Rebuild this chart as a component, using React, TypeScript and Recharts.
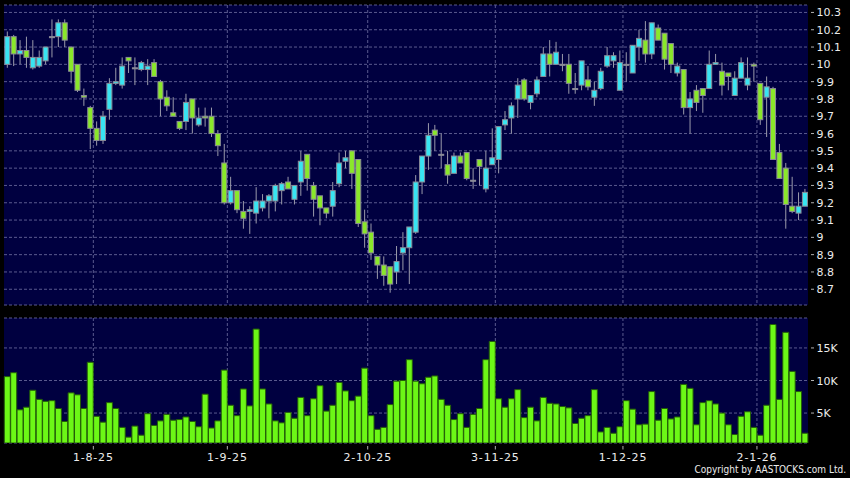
import React from 'react'
import { ComposedChart, Bar, XAxis, YAxis, CartesianGrid } from 'recharts'

// trading days, D-M-YY
const DATES = [
  '14-7-25', '15-7-25', '16-7-25', '17-7-25', '18-7-25', '21-7-25', '22-7-25', '23-7-25', '24-7-25', '25-7-25',
  '28-7-25', '29-7-25', '30-7-25', '31-7-25',
  '1-8-25', '4-8-25', '5-8-25', '6-8-25', '7-8-25', '8-8-25', '11-8-25', '12-8-25', '13-8-25', '14-8-25',
  '15-8-25', '18-8-25', '19-8-25', '20-8-25', '21-8-25', '22-8-25', '25-8-25', '26-8-25', '27-8-25', '28-8-25',
  '29-8-25',
  '1-9-25', '2-9-25', '3-9-25', '4-9-25', '5-9-25', '8-9-25', '9-9-25', '10-9-25', '11-9-25', '12-9-25',
  '15-9-25', '16-9-25', '17-9-25', '18-9-25', '19-9-25', '22-9-25', '23-9-25', '24-9-25', '25-9-25', '26-9-25',
  '29-9-25', '30-9-25',
  '2-10-25', '3-10-25', '6-10-25', '8-10-25', '9-10-25', '10-10-25', '13-10-25', '14-10-25', '15-10-25', '16-10-25',
  '17-10-25', '20-10-25', '21-10-25', '22-10-25', '23-10-25', '24-10-25', '27-10-25', '28-10-25', '30-10-25', '31-10-25',
  '3-11-25', '4-11-25', '5-11-25', '6-11-25', '7-11-25', '10-11-25', '11-11-25', '12-11-25', '13-11-25', '14-11-25',
  '17-11-25', '18-11-25', '19-11-25', '20-11-25', '21-11-25', '24-11-25', '25-11-25', '26-11-25', '27-11-25', '28-11-25',
  '1-12-25', '2-12-25', '3-12-25', '4-12-25', '5-12-25', '8-12-25', '9-12-25', '10-12-25', '11-12-25', '12-12-25',
  '15-12-25', '16-12-25', '17-12-25', '18-12-25', '19-12-25', '22-12-25', '23-12-25', '24-12-25', '29-12-25', '30-12-25',
  '31-12-25',
  '2-1-26', '5-1-26', '6-1-26', '7-1-26', '8-1-26', '9-1-26', '12-1-26', '13-1-26',
]

const OPEN = [
  10.00, 10.16, 10.06, 10.08, 9.98, 9.99, 10.02, 10.16, 10.16, 10.24,
  10.10, 10.00, 9.82, 9.75, 9.63, 9.56, 9.74, 9.89, 9.88, 10.04,
  9.98, 9.97, 9.97, 10.01, 9.90, 9.81, 9.72, 9.67, 9.67, 9.80,
  9.65, 9.70, 9.70, 9.60, 9.43, 9.20, 9.27, 9.15, 9.15, 9.14,
  9.17, 9.21, 9.21, 9.27, 9.32, 9.22, 9.32, 9.48, 9.30, 9.24,
  9.17, 9.18, 9.31, 9.44, 9.50, 9.45, 9.09, 9.03, 8.89, 8.84,
  8.83, 8.80, 8.91, 8.94, 9.03, 9.32, 9.47, 9.62, 9.48, 9.42,
  9.37, 9.47, 9.49, 9.33, 9.45, 9.28, 9.42, 9.45, 9.65, 9.69,
  9.80, 9.91, 9.78, 9.83, 9.93, 10.06, 10.00, 10.00, 10.00, 9.86,
  9.88, 9.91, 9.81, 9.86, 9.99, 10.02, 9.85, 10.00, 9.95, 10.10,
  10.14, 10.06, 10.21, 10.18, 10.12, 9.95, 9.97, 9.75, 9.85, 9.86,
  9.86, 10.00, 9.96, 9.95, 9.82, 9.92, 9.88, 10.00, 9.89, 9.81,
  9.86, 9.49, 9.40, 9.18, 9.14, 9.18,
]

const HIGH = [
  10.19, 10.17, 10.14, 10.16, 10.14, 10.08, 10.10, 10.26, 10.26, 10.26,
  10.10, 10.00, 9.86, 9.76, 9.67, 9.73, 9.92, 9.98, 10.04, 10.04,
  10.04, 10.02, 10.03, 10.03, 9.91, 9.85, 9.81, 9.67, 9.83, 9.80,
  9.75, 9.75, 9.75, 9.62, 9.54, 9.35, 9.27, 9.21, 9.18, 9.29,
  9.25, 9.25, 9.31, 9.32, 9.35, 9.30, 9.50, 9.48, 9.32, 9.24,
  9.17, 9.32, 9.49, 9.50, 9.50, 9.45, 9.16, 9.08, 8.89, 8.89,
  8.83, 8.95, 9.03, 9.06, 9.36, 9.47, 9.66, 9.65, 9.60, 9.50,
  9.49, 9.49, 9.49, 9.40, 9.45, 9.50, 9.63, 9.64, 9.73, 9.78,
  9.92, 9.92, 9.82, 9.93, 10.10, 10.14, 10.13, 10.06, 10.06, 9.95,
  10.02, 9.99, 9.90, 9.98, 10.10, 10.07, 10.08, 10.07, 10.11, 10.20,
  10.25, 10.24, 10.23, 10.18, 10.12, 10.01, 9.97, 9.84, 9.88, 9.86,
  10.08, 10.06, 10.01, 9.95, 9.96, 10.04, 10.04, 10.01, 9.89, 9.93,
  9.87, 9.54, 9.43, 9.35, 9.26, 9.28,
]

const LOW = [
  9.98, 9.99, 10.00, 9.98, 9.97, 9.98, 10.00, 10.04, 10.10, 10.10,
  9.89, 9.84, 9.76, 9.51, 9.53, 9.54, 9.68, 9.88, 9.86, 9.95,
  9.88, 9.96, 9.88, 9.93, 9.70, 9.73, 9.70, 9.62, 9.62, 9.60,
  9.64, 9.64, 9.58, 9.47, 9.19, 9.19, 9.14, 9.05, 9.02, 9.08,
  9.15, 9.11, 9.15, 9.19, 9.28, 9.19, 9.24, 9.27, 9.12, 9.07,
  9.11, 9.12, 9.29, 9.40, 9.28, 9.06, 8.94, 8.87, 8.76, 8.72,
  8.68, 8.73, 8.81, 8.73, 9.02, 9.25, 9.39, 9.50, 9.40, 9.31,
  9.37, 9.43, 9.33, 9.28, 9.30, 9.26, 9.42, 9.37, 9.62, 9.60,
  9.69, 9.79, 9.74, 9.81, 9.93, 9.93, 10.00, 9.96, 9.83, 9.83,
  9.85, 9.85, 9.76, 9.85, 9.98, 9.98, 9.85, 9.90, 9.95, 10.02,
  10.01, 10.03, 10.14, 9.97, 9.95, 9.93, 9.71, 9.60, 9.73, 9.72,
  9.86, 10.00, 9.82, 9.85, 9.82, 9.92, 9.85, 9.90, 9.65, 9.58,
  9.45, 9.34, 9.05, 9.14, 9.10, 9.18,
]

const CLOSE = [
  10.16, 10.06, 10.08, 10.04, 10.04, 10.04, 10.10, 10.16, 10.24, 10.14,
  9.96, 9.85, 9.81, 9.63, 9.56, 9.70, 9.89, 9.90, 9.99, 10.02,
  9.98, 10.01, 9.99, 9.93, 9.80, 9.76, 9.70, 9.63, 9.78, 9.69,
  9.69, 9.69, 9.60, 9.53, 9.20, 9.27, 9.16, 9.11, 9.16, 9.21,
  9.21, 9.24, 9.30, 9.31, 9.28, 9.30, 9.44, 9.34, 9.22, 9.17,
  9.14, 9.27, 9.43, 9.46, 9.37, 9.08, 9.02, 8.91, 8.84, 8.78,
  8.73, 8.86, 8.94, 9.06, 9.32, 9.47, 9.59, 9.59, 9.48, 9.36,
  9.47, 9.43, 9.34, 9.33, 9.41, 9.40, 9.46, 9.64, 9.68, 9.76,
  9.88, 9.80, 9.82, 9.91, 10.06, 10.00, 10.07, 10.00, 9.89, 9.86,
  10.02, 9.87, 9.85, 9.96, 10.05, 10.05, 10.01, 10.00, 10.11, 10.15,
  10.06, 10.24, 10.14, 10.03, 10.00, 9.99, 9.75, 9.80, 9.78, 9.82,
  10.00, 10.01, 9.88, 9.93, 9.92, 10.01, 9.92, 9.99, 9.68, 9.87,
  9.45, 9.34, 9.19, 9.15, 9.18, 9.26,
]

const VOLUME = [
  10600, 11200, 5500, 5900, 8500, 7100, 6800, 6900, 5700, 3700,
  8100, 7800, 5700, 12800, 4500, 3600, 6600, 5700, 2800, 1300,
  3000, 1600, 4900, 3100, 3800, 4800, 3900, 4000, 4400, 3700,
  2900, 7900, 2700, 3800, 11600, 6200, 4600, 8700, 6100, 17900,
  8700, 6400, 3800, 3500, 5100, 4200, 7400, 4600, 7200, 9200,
  5300, 6200, 9700, 8400, 6900, 7600, 11900, 4600, 2500, 2800,
  6300, 9900, 10000, 13200, 9900, 9500, 10500, 10700, 7100, 6200,
  4000, 4900, 2800, 4800, 5700, 13200, 16000, 7200, 5900, 7200,
  8600, 4300, 5900, 3800, 7400, 6500, 6400, 6000, 5800, 3400,
  4200, 4600, 8600, 2100, 2800, 1900, 2900, 6900, 5600, 3200,
  3300, 8300, 3900, 5700, 4100, 4400, 9400, 8800, 3200, 6600,
  6900, 6400, 5000, 3200, 1700, 4500, 5200, 2800, 1600, 6200,
  18600, 7100, 17400, 11400, 8300, 1900,
]

const PRICE_TICKS = [8.7, 8.8, 8.9, 9.0, 9.1, 9.2, 9.3, 9.4, 9.5, 9.6, 9.7, 9.8, 9.9, 10.0, 10.1, 10.2, 10.3]
const VOLUME_TICKS = [5000, 10000, 15000]
const MONTH_TICKS = ['1-8-25', '1-9-25', '2-10-25', '3-11-25', '1-12-25', '2-1-26']

const data = DATES.map((date, i) => ({
  date,
  open: OPEN[i],
  high: HIGH[i],
  low: LOW[i],
  close: CLOSE[i],
  range: [LOW[i], HIGH[i]],
  volume: VOLUME[i],
}))

const W = 850
const LEFT = 4
const AXIS_W = 42
const BAND = (W - LEFT - AXIS_W) / DATES.length

const FONT = '"DejaVu Sans", Verdana, sans-serif'
const TEXT = '#ececec'
const PLOT_BG = '#000040'
const GRID = '#5a5a8e'
const UP = '#38e4f2'
const DOWN = '#8ae82a'
const EDGE = '#8a8a96'
const WICK = '#9a9aaa'
const VOL = '#6cf716'

const monthEdges = ({ offset }: any) => {
  const left = offset?.left ?? LEFT
  const band = (offset?.width ?? W - LEFT - AXIS_W) / DATES.length
  return MONTH_TICKS.map((t) => left + DATES.indexOf(t) * band)
}

const Candle = (props: any) => {
  const { x, y, width, height, payload } = props
  if (!payload || width == null) return null
  const top = Math.min(y, y + height)
  const h = Math.abs(height)
  const { open, close, high, low } = payload
  const toY = (p: number) => top + ((high - p) / (high - low || 1)) * h
  const cx = x + width / 2
  const bt = toY(Math.max(open, close))
  const bb = toY(Math.min(open, close))
  const fill = close > open ? UP : close < open ? DOWN : '#a8c8d0'
  return (
    <g>
      <line x1={cx} x2={cx} y1={top} y2={top + h} stroke={WICK} strokeWidth={1} />
      <rect x={x + 0.5} y={bt} width={width - 1} height={Math.max(bb - bt, 1)} fill={fill} stroke={EDGE} strokeWidth={1} />
    </g>
  )
}

const fmtPrice = (v: number) => String(+v.toFixed(1))

const PriceTick = ({ x, y, payload }: any) => (
  <g>
    <line x1={x + 3} x2={x + 6} y1={y} y2={y} stroke="#b0b0b0" />
    <text x={x + 8.5} y={y} dy={4} fill={TEXT} fontSize={11} fontFamily={FONT}>
      {fmtPrice(payload.value)}
    </text>
  </g>
)

const VolumeTick = ({ x, y, payload }: any) => (
  <g>
    <line x1={x + 3} x2={x + 6} y1={y} y2={y} stroke="#b0b0b0" />
    <text x={x + 8.5} y={y} dy={4} fill={TEXT} fontSize={11} fontFamily={FONT}>
      {payload.value / 1000}K
    </text>
  </g>
)

const MonthTick = ({ x, y, payload }: any) => {
  const edge = x - BAND / 2
  return (
    <g>
      <line x1={edge} x2={edge} y1={y + 3} y2={y + 6.5} stroke="#b0b0b0" />
      <text x={edge} y={y + 17.5} textAnchor="middle" fill={TEXT} fontSize={11} fontFamily={FONT} letterSpacing={0.8}>
        {payload.value}
      </text>
    </g>
  )
}

export default function App() {
  return (
    <div style={{ position: 'absolute', left: 0, top: 0, width: W, height: 478, background: '#000', overflow: 'hidden' }}>
      <div style={{ position: 'absolute', left: 0, top: 0 }}>
        <ComposedChart width={W} height={310} data={data} margin={{ top: 5, right: 0, left: LEFT, bottom: 5 }} barCategoryGap={0.3}>
          <CartesianGrid
            fill={PLOT_BG}
            stroke={GRID}
            strokeDasharray="3 2"
            verticalCoordinatesGenerator={monthEdges}
          />
          <XAxis dataKey="date" hide />
          <YAxis
            orientation="right"
            width={AXIS_W}
            type="number"
            domain={[8.609, 10.343]}
            allowDataOverflow
            ticks={PRICE_TICKS}
            interval={0}
            tickSize={0}
            tickMargin={0}
            tickLine={false}
            axisLine={false}
            tick={PriceTick}
          />
          <Bar dataKey="range" shape={Candle} isAnimationActive={false} />
        </ComposedChart>
      </div>
      <div style={{ position: 'absolute', left: 0, top: 310 }}>
        <ComposedChart width={W} height={168} data={data} margin={{ top: 8, right: 0, left: LEFT, bottom: 0 }} barCategoryGap={0.3}>
          <CartesianGrid
            fill={PLOT_BG}
            stroke={GRID}
            strokeDasharray="3 2"
            verticalCoordinatesGenerator={monthEdges}
          />
          <XAxis
            dataKey="date"
            ticks={MONTH_TICKS}
            interval={0}
            height={35}
            tickSize={0}
            tickMargin={0}
            tickLine={false}
            axisLine={false}
            tick={MonthTick}
          />
          <YAxis
            orientation="right"
            width={AXIS_W}
            type="number"
            domain={[400, 19600]}
            allowDataOverflow
            ticks={VOLUME_TICKS}
            interval={0}
            tickSize={0}
            tickMargin={0}
            tickLine={false}
            axisLine={false}
            tick={VolumeTick}
          />
          <Bar dataKey="volume" fill={VOL} stroke="#245e08" strokeWidth={1} isAnimationActive={false} />
        </ComposedChart>
      </div>
      <div
        style={{
          position: 'absolute',
          right: 4,
          top: 463,
          fontFamily: '"DejaVu Sans Condensed", "DejaVu Sans", sans-serif',
          fontSize: 10,
          lineHeight: '13px',
          color: TEXT,
          whiteSpace: 'nowrap',
        }}
      >
        Copyright by AASTOCKS.com Ltd.
      </div>
    </div>
  )
}
